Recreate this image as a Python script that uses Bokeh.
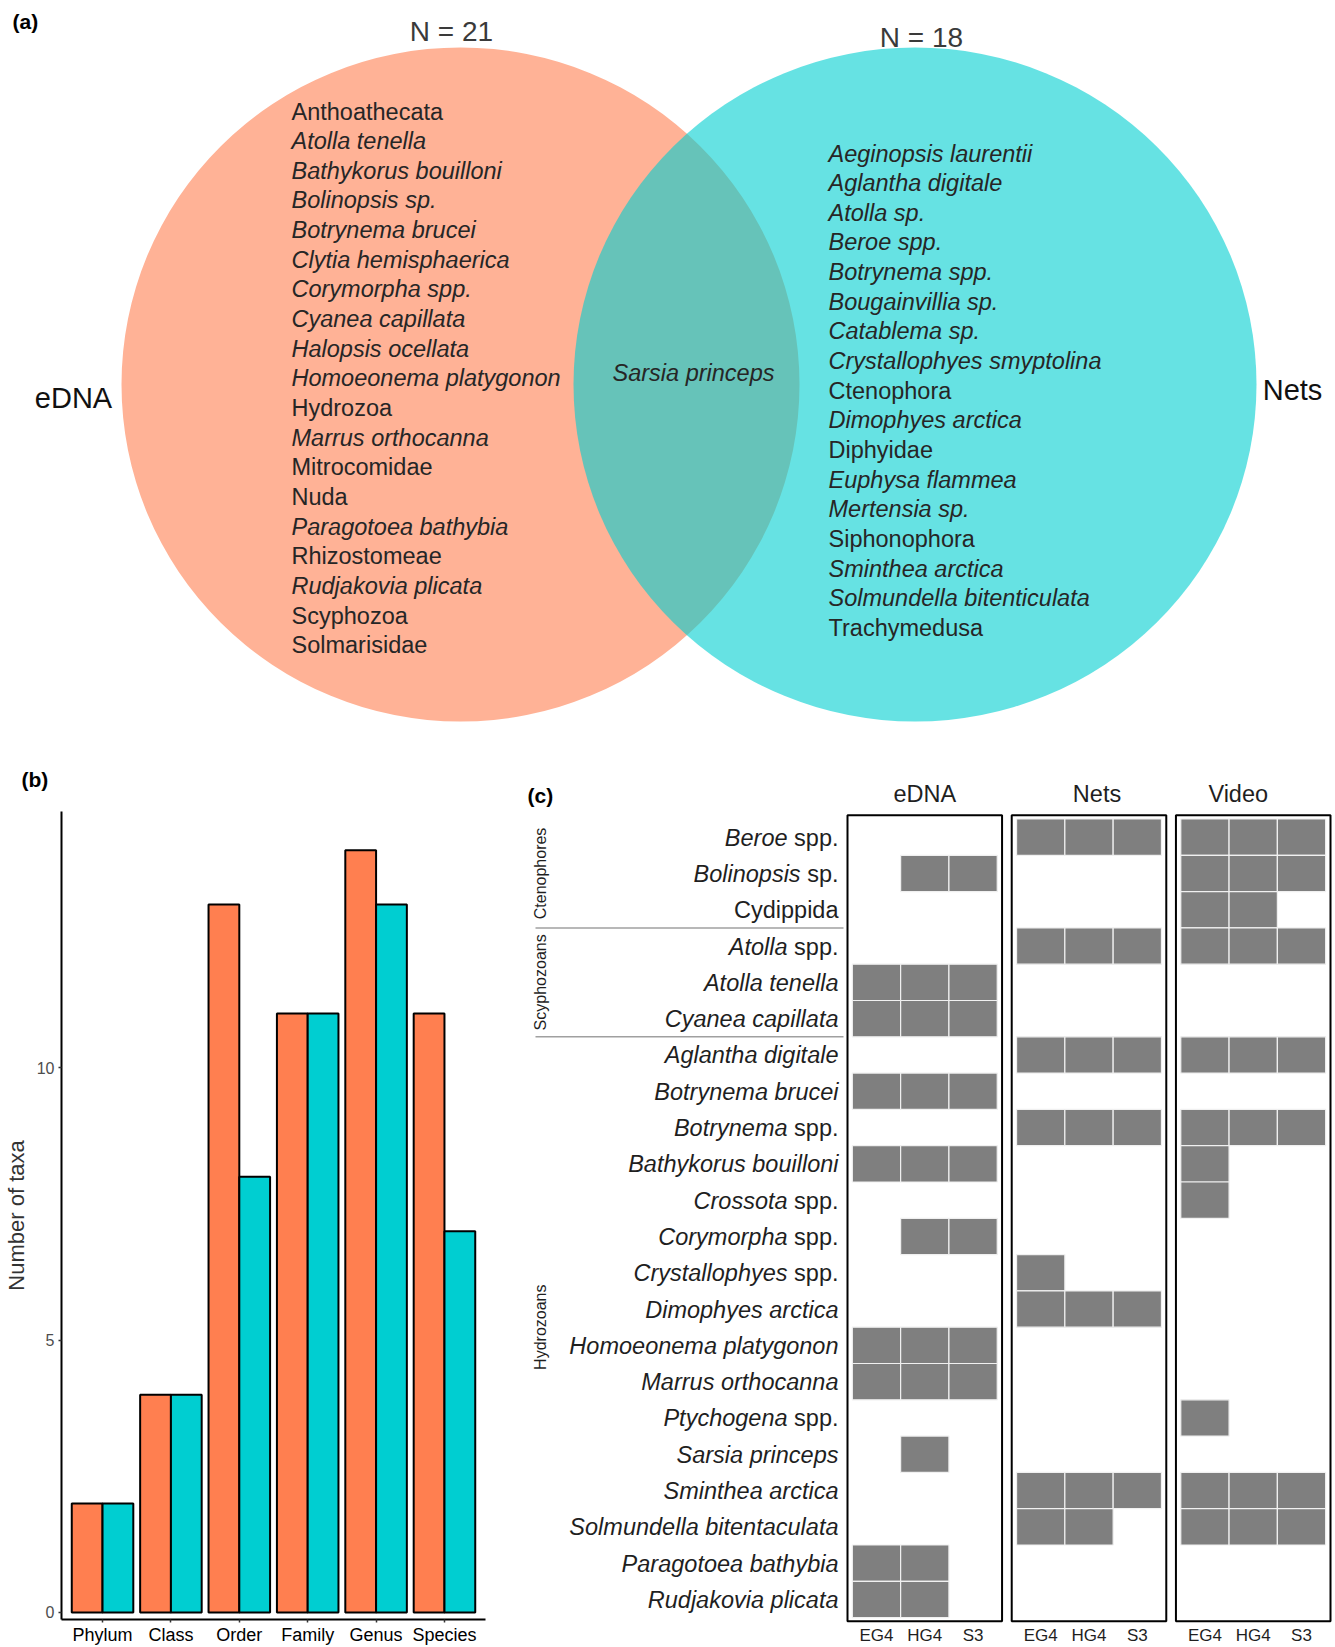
import numpy as np
from bokeh.plotting import figure
from bokeh.layouts import column, row
from bokeh.models import Range1d, FixedTicker
from bokeh.core.properties import value
from bokeh.embed import file_html
from bokeh.resources import INLINE

FONT = value("Liberation Sans")

# ---------------- (a) Venn data ----------------
edna_only = ["Anthoathecata", "Atolla tenella", "Bathykorus bouilloni", "Bolinopsis sp.",
             "Botrynema brucei", "Clytia hemisphaerica", "Corymorpha spp.", "Cyanea capillata",
             "Halopsis ocellata", "Homoeonema platygonon", "Hydrozoa", "Marrus orthocanna",
             "Mitrocomidae", "Nuda", "Paragotoea bathybia", "Rhizostomeae", "Rudjakovia plicata",
             "Scyphozoa", "Solmarisidae"]
edna_only_style = ["normal", "italic", "italic", "italic", "italic", "italic", "italic", "italic",
                   "italic", "italic", "normal", "italic", "normal", "normal", "italic", "normal",
                   "italic", "normal", "normal"]
nets_only = ["Aeginopsis laurentii", "Aglantha digitale", "Atolla sp.", "Beroe spp.",
             "Botrynema spp.", "Bougainvillia sp.", "Catablema sp.", "Crystallophyes smyptolina",
             "Ctenophora", "Dimophyes arctica", "Diphyidae", "Euphysa flammea", "Mertensia sp.",
             "Siphonophora", "Sminthea arctica", "Solmundella bitenticulata", "Trachymedusa"]
nets_only_style = ["italic", "italic", "italic", "italic", "italic", "italic", "italic", "italic",
                   "normal", "italic", "normal", "italic", "italic", "normal", "italic", "italic",
                   "normal"]
shared_taxa = ["Sarsia princeps"]
venn_sets = ["eDNA", "Nets"]
venn_n = ["N = 21", "N = 18"]

# ---------------- (b) bar data ----------------
levels = ["Phylum", "Class", "Order", "Family", "Genus", "Species"]
edna_counts = [2, 4, 13, 11, 14, 11]
nets_counts = [2, 4, 8, 11, 13, 7]
y_ticks = [0, 5, 10]

# ---------------- (c) tile data ----------------
taxa_italic = ["Beroe", "Bolinopsis", "", "Atolla", "Atolla tenella", "Cyanea capillata",
               "Aglantha digitale", "Botrynema brucei", "Botrynema", "Bathykorus bouilloni",
               "Crossota", "Corymorpha", "Crystallophyes", "Dimophyes arctica",
               "Homoeonema platygonon", "Marrus orthocanna", "Ptychogena", "Sarsia princeps",
               "Sminthea arctica", "Solmundella bitentaculata", "Paragotoea bathybia",
               "Rudjakovia plicata"]
taxa_plain = ["spp.", "sp.", "Cydippida", "spp.", "", "", "", "", "spp.", "", "spp.",
              "spp.", "spp.", "", "", "", "spp.", "", "", "", "", ""]
groups = ["Ctenophores", "Scyphozoans", "Hydrozoans"]
group_sizes = [3, 3, 16]
methods = ["eDNA", "Nets", "Video"]
stations = ["EG4", "HG4", "S3"]
edna_detect = [[0, 0, 0], [0, 1, 1], [0, 0, 0], [0, 0, 0], [1, 1, 1], [1, 1, 1], [0, 0, 0],
               [1, 1, 1], [0, 0, 0], [1, 1, 1], [0, 0, 0], [0, 1, 1], [0, 0, 0], [0, 0, 0],
               [1, 1, 1], [1, 1, 1], [0, 0, 0], [0, 1, 0], [0, 0, 0], [0, 0, 0], [1, 1, 0],
               [1, 1, 0]]
nets_detect = [[1, 1, 1], [0, 0, 0], [0, 0, 0], [1, 1, 1], [0, 0, 0], [0, 0, 0], [1, 1, 1],
               [0, 0, 0], [1, 1, 1], [0, 0, 0], [0, 0, 0], [0, 0, 0], [1, 0, 0], [1, 1, 1],
               [0, 0, 0], [0, 0, 0], [0, 0, 0], [0, 0, 0], [1, 1, 1], [1, 1, 0], [0, 0, 0],
               [0, 0, 0]]
video_detect = [[1, 1, 1], [1, 1, 1], [1, 1, 0], [1, 1, 1], [0, 0, 0], [0, 0, 0], [1, 1, 1],
                [0, 0, 0], [1, 1, 1], [1, 0, 0], [1, 0, 0], [0, 0, 0], [0, 0, 0], [0, 0, 0],
                [0, 0, 0], [0, 0, 0], [1, 0, 0], [0, 0, 0], [1, 1, 1], [1, 1, 1], [0, 0, 0],
                [0, 0, 0]]
detections = {"eDNA": edna_detect, "Nets": nets_detect, "Video": video_detect}

TEXT_DARK = "#1f1f1f"
PAGE_W = 1335
TOP_H = 722
BOT_H = 925
B_W = 498
BL = 0.34   # baseline correction (fraction of font size) for svg text


def base(y, fs):
    return y - BL * fs


# =============== Panel (a) ===============
pa = figure(width=PAGE_W, height=TOP_H, x_range=Range1d(0, PAGE_W), y_range=Range1d(TOP_H, 0),
            x_axis_location=None, y_axis_location=None, min_border=0, frame_align=False,
            toolbar_location=None, output_backend="svg")
pa.grid.visible = False
pa.outline_line_color = None

venn_cx = [460, 914.5]
venn_cy = 384
venn_w = [678, 683]
venn_h = [674, 674]
venn_fill = ["coral", "darkturquoise"]
for k in range(2):
    pa.ellipse(x=[venn_cx[k]], y=[venn_cy], width=venn_w[k], height=venn_h[k],
               fill_color=venn_fill[k], fill_alpha=0.6, line_color=None)

LINE = 29.65
FSV = 23.5
pa.text(x=291, y=base(119 + LINE * np.arange(len(edna_only)), FSV), text=edna_only,
        text_font=FONT, text_font_size="23.5px", text_font_style=edna_only_style,
        text_baseline="alphabetic", text_align="left", text_color="#262626")
pa.text(x=828, y=base(161 + LINE * np.arange(len(nets_only)), FSV), text=nets_only,
        text_font=FONT, text_font_size="23.5px", text_font_style=nets_only_style,
        text_baseline="alphabetic", text_align="left", text_color="#262626")
pa.text(x=[612], y=[base(380, FSV)], text=shared_taxa, text_font=FONT, text_font_size="23.5px",
        text_font_style="italic", text_baseline="alphabetic", text_align="left",
        text_color="#262626")
pa.text(x=[73, 1292], y=[base(407, 29), base(399, 29)], text=venn_sets, text_font=FONT,
        text_font_size="29px", text_baseline="alphabetic", text_align="center",
        text_color="#111111")
pa.text(x=[451, 921], y=[base(41, 28), base(47, 28)], text=venn_n, text_font=FONT,
        text_font_size="28px", text_baseline="alphabetic", text_align="center",
        text_color="#3a3a3a")
pa.text(x=[12], y=[base(28, 21)], text=["(a)"], text_font=FONT, text_font_size="21px",
        text_font_style="bold", text_baseline="alphabetic", text_align="left",
        text_color="#000000")

# =============== Panel (b) ===============
pb = figure(width=B_W, height=BOT_H, x_range=Range1d(0.4, 6.6), y_range=Range1d(-0.13, 14.71),
            min_border_left=60, min_border_right=13, min_border_top=811 - TOP_H,
            min_border_bottom=0, frame_align=False, toolbar_location=None,
            output_backend="svg")
pb.grid.visible = False
pb.outline_line_color = None
pb.title.text = "(b)"
pb.title.align = "left"
pb.title.offset = -40
pb.title.standoff = 42
pb.title.text_font = "Liberation Sans"
pb.title.text_font_size = "21px"
pb.title.text_font_style = "bold"
pb.title.text_color = "#000000"

pos = np.arange(1, len(levels) + 1)
BW = 0.45
pb.vbar(x=pos - BW / 2, top=edna_counts, bottom=0, width=BW, fill_color="coral",
        line_color="black", line_width=2)
pb.vbar(x=pos + BW / 2, top=nets_counts, bottom=0, width=BW, fill_color="darkturquoise",
        line_color="black", line_width=2)

pb.xaxis.ticker = FixedTicker(ticks=list(pos))
pb.xaxis.major_label_overrides = {int(p): lab for p, lab in zip(pos, levels)}
pb.yaxis.ticker = FixedTicker(ticks=y_ticks)
for ax in (pb.xaxis, pb.yaxis):
    ax.axis_line_color = "black"
    ax.axis_line_width = 2
    ax.major_tick_line_color = "#333333"
    ax.major_tick_line_width = 1.5
    ax.major_tick_out = 3
    ax.major_tick_in = 0
    ax.minor_tick_line_color = None
    ax.major_label_text_font = "Liberation Sans"
pb.xaxis.major_label_text_font_size = "18px"
pb.xaxis.major_label_text_color = "#000000"
pb.xaxis.major_label_standoff = 2
pb.yaxis.major_label_text_font_size = "16px"
pb.yaxis.major_label_text_color = "#4d4d4d"
pb.yaxis.major_label_standoff = 4
pb.yaxis.axis_label = "Number of taxa"
pb.yaxis.axis_label_text_font = "Liberation Sans"
pb.yaxis.axis_label_text_font_size = "22px"
pb.yaxis.axis_label_text_font_style = "normal"
pb.yaxis.axis_label_text_color = "#333333"
pb.yaxis.axis_label_standoff = 5

# =============== Panel (c) ===============
C_W = PAGE_W - B_W
CELL_W = 48.3      # px per station column
ROW_H = 36.3       # px per taxon row
BOX_LEFT = 847.0 - B_W   # px of first facet box inside the figure
ROW_TOP = 818.5 - TOP_H  # px of first row inside the figure
FACET_STEP = 3.4
PAD = 0.1
n_rows = len(taxa_italic)


def ux(page_x):
    return (page_x - B_W - BOX_LEFT) / CELL_W


def uy(page_y):
    return (page_y - TOP_H - ROW_TOP) / ROW_H


pc = figure(width=C_W, height=BOT_H,
            x_range=Range1d(-BOX_LEFT / CELL_W, (C_W - BOX_LEFT) / CELL_W),
            y_range=Range1d((BOT_H - ROW_TOP) / ROW_H, -ROW_TOP / ROW_H),
            x_axis_location=None, y_axis_location=None, min_border=0, frame_align=False,
            toolbar_location=None, output_backend="svg")
pc.grid.visible = False
pc.outline_line_color = None

# tiles
tx, ty = [], []
for f, m in enumerate(methods):
    for i, rv in enumerate(detections[m]):
        for c, v in enumerate(rv):
            if v:
                tx.append(f * FACET_STEP + PAD + c + 0.5)
                ty.append(i + 0.5)
pc.rect(x=tx, y=ty, width=1, height=1, fill_color="#7f7f7f", line_color="#f0f0f0",
        line_width=1.2)

# facet boxes
nst = len(stations)
bx = [f * FACET_STEP + (nst + 2 * PAD) / 2 for f in range(len(methods))]
pc.rect(x=bx, y=n_rows / 2, width=nst + 2 * PAD, height=n_rows + 2 * PAD, fill_color=None,
        line_color="black", line_width=2)

# facet headers (placed as in the original strip labels)
header_shift_px = [0, 8, -15]
hx = [b + s / CELL_W for b, s in zip(bx, header_shift_px)]
pc.text(x=hx, y=uy(base(801.5, 23.5)), text=methods, text_font=FONT, text_font_size="23.5px",
        text_align="center", text_baseline="alphabetic", text_color=TEXT_DARK)

# station labels
sx, sl = [], []
for f in range(len(methods)):
    for c, s in enumerate(stations):
        sx.append(f * FACET_STEP + PAD + c + 0.5)
        sl.append(s)
pc.text(x=sx, y=uy(base(1641, 17)), text=sl, text_font=FONT, text_font_size="17px",
        text_align="center", text_baseline="alphabetic", text_color=TEXT_DARK)

# row labels (italic genus/species + roman suffix)
FS = 23.5
ADV = {" ": 0.278, "s": 0.5, "p": 0.556, ".": 0.278}
suffix_px = [(sum(ADV.get(ch, 0.556) for ch in s) + ADV[" "]) * FS if (it and s) else 0.0
             for it, s in zip(taxa_italic, taxa_plain)]
LABEL_X = ux(838)
ybase = np.arange(n_rows) + 0.5 + (0.36 - BL) * FS / ROW_H
pc.text(x=LABEL_X, y=ybase, text=taxa_plain, text_font=FONT, text_font_size="23.5px",
        text_align="right", text_baseline="alphabetic", text_color=TEXT_DARK)
pc.text(x=LABEL_X, y=ybase, text=taxa_italic, x_offset=[-v for v in suffix_px],
        text_font=FONT, text_font_size="23.5px", text_font_style="italic",
        text_align="right", text_baseline="alphabetic", text_color=TEXT_DARK)

# group labels and separators
bounds = np.concatenate([[0], np.cumsum(group_sizes)])
gy = (bounds[:-1] + bounds[1:]) / 2
pc.text(x=ux(540), y=gy, text=groups, angle=np.pi / 2, text_font=FONT, text_font_size="16px",
        text_align="center", text_baseline="middle", text_color=TEXT_DARK)
sep = bounds[1:-1]
pc.segment(x0=ux(535), x1=ux(843), y0=sep, y1=sep, line_color="#a0a0a0", line_width=1.5)

pc.text(x=[ux(527)], y=[uy(base(802, 21))], text=["(c)"], text_font=FONT,
        text_font_size="21px", text_font_style="bold", text_align="left",
        text_baseline="alphabetic", text_color="#000000")

layout = column(pa, row(pb, pc))
open("out.html", "w").write(file_html(layout, INLINE))
